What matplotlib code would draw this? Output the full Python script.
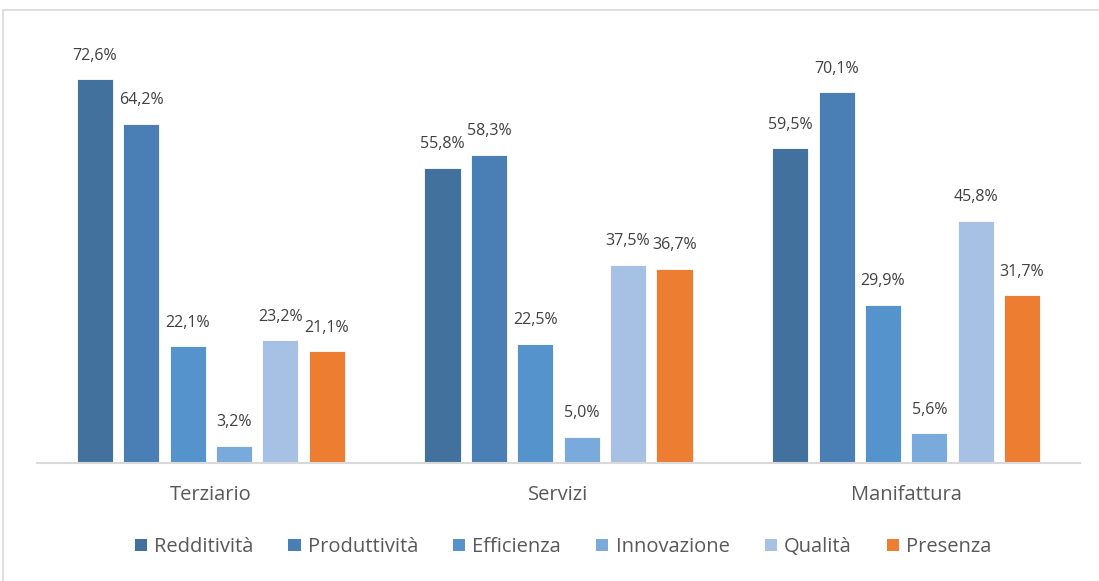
import numpy as np
import matplotlib
matplotlib.use("Agg")
import matplotlib.pyplot as plt
from matplotlib.lines import Line2D
from matplotlib.patches import Patch

categories = ["Terziario", "Servizi", "Manifattura"]
series = ["Redditività", "Produttività", "Efficienza", "Innovazione", "Qualità", "Presenza"]
redditivita = [72.6, 55.8, 59.5]
produttivita = [64.2, 58.3, 70.1]
efficienza = [22.1, 22.5, 29.9]
innovazione = [3.2, 5.0, 5.6]
qualita = [23.2, 37.5, 45.8]
presenza = [21.1, 36.7, 31.7]
colors = ["#41719C", "#4A7FB5", "#5593CC", "#7AAADC", "#A6C1E4", "#ED7D31"]

plt.rcParams["font.family"] = ["Open Sans", "DejaVu Sans"]

fig = plt.figure(figsize=(10.99, 5.81), dpi=100)
ax = fig.add_axes([37 / 1099, (581 - 463) / 581, (1080 - 37) / 1099, (463 - 40) / 581])

data = [redditivita, produttivita, efficienza, innovazione, qualita, presenza]
x = np.arange(len(categories))
step, width = 0.1334, 0.104
for i, (vals, col) in enumerate(zip(data, colors)):
    pos = x + (i - 2.5) * step
    ax.bar(pos, vals, width=width, color=col, edgecolor="white", linewidth=0.6, zorder=2)
    for px, v in zip(pos, vals):
        ax.annotate(f"{v:.1f}%".replace(".", ","), (px, v), xytext=(0, 17),
                    textcoords="offset points", ha="center", va="center",
                    fontsize=11.5, color="#404040")

ax.set_xlim(-0.5, 2.5)
ax.set_ylim(0, 80)
ax.set_yticks([])
ax.set_xticks(x)
ax.set_xticklabels(categories, fontsize=14.5, color="#595959")
ax.tick_params(axis="x", length=0, pad=16)
for s in ["top", "right", "left"]:
    ax.spines[s].set_visible(False)
ax.spines["bottom"].set_color("#D9D9D9")
ax.spines["bottom"].set_linewidth(1.5)

handles = [Patch(facecolor=c, edgecolor="none") for c in colors]
fig.legend(handles, series, loc="center", bbox_to_anchor=(563 / 1099, 1 - 547 / 581),
           ncol=6, frameon=False, fontsize=14.5, labelcolor="#595959",
           handlelength=0.6, handleheight=0.6, handletextpad=0.35, columnspacing=1.75)

# chart frame (top and left edges visible)
fig.add_artist(Line2D([3 / 1099, 1], [1 - 10 / 581, 1 - 10 / 581], color="#D9D9D9", lw=1.2))
fig.add_artist(Line2D([3 / 1099, 3 / 1099], [0, 1 - 10 / 581], color="#D9D9D9", lw=1.2))

fig.savefig("out.png", dpi=100)
